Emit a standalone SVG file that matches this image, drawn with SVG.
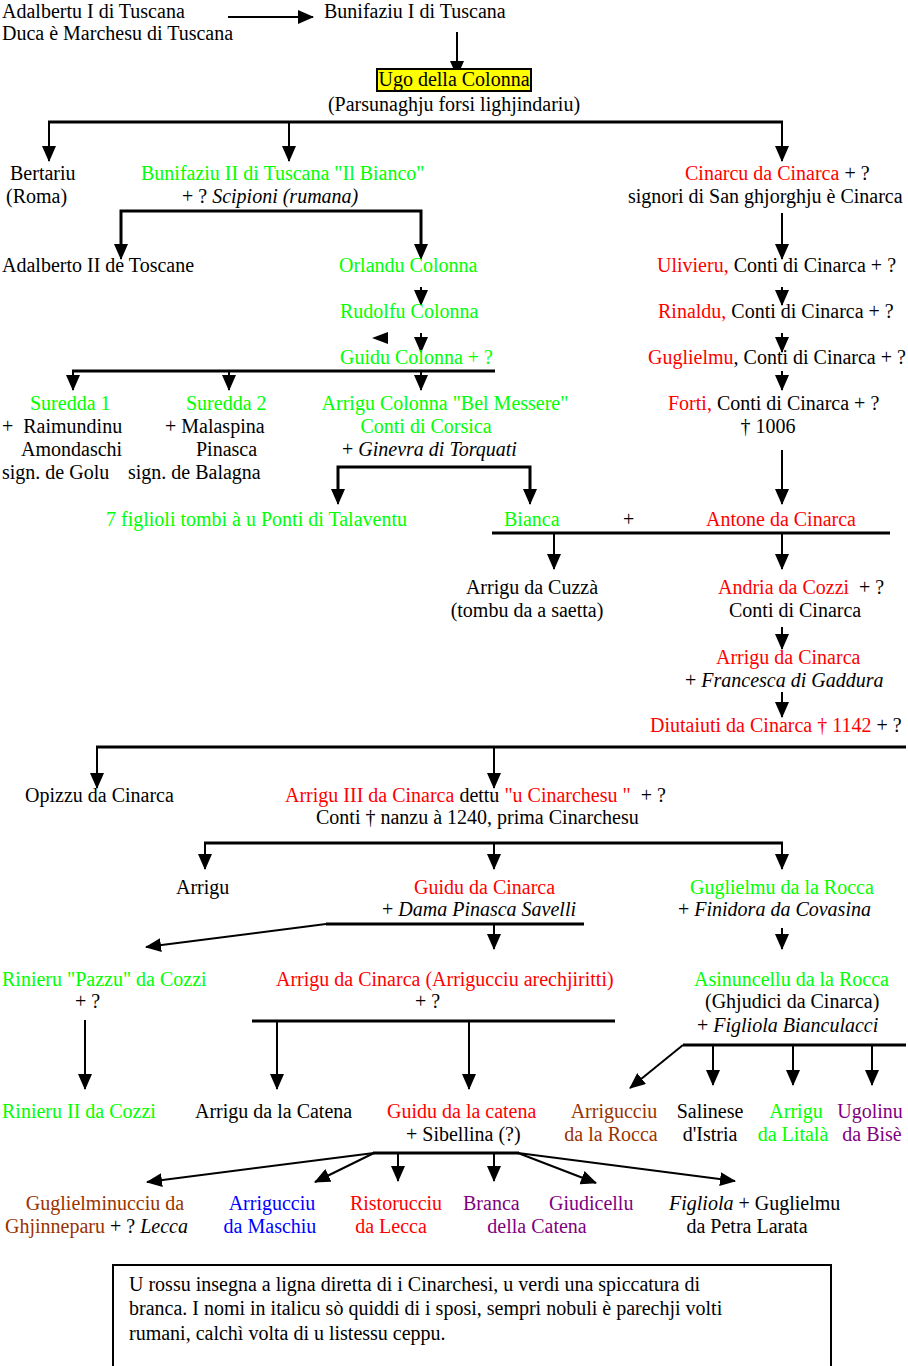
<svg xmlns="http://www.w3.org/2000/svg" width="908" height="1366" viewBox="0 0 908 1366">
<defs>
<style>
text{font-family:"Liberation Serif","Times New Roman",serif;font-size:20px;fill:#000}
.g{fill:#00ff00}.r{fill:#ff0000}.b{fill:#993300}.u{fill:#0000ff}.p{fill:#800080}.k{fill:#000}
.i{font-style:italic}
.c line,.c polyline{stroke:#000;stroke-width:2;fill:none}
.c .h{stroke-width:3}
.c .tri{fill:#000;stroke:none}
</style>
<marker id="a" markerUnits="userSpaceOnUse" markerWidth="16" markerHeight="14" refX="15" refY="7" orient="auto"><path d="M0,0 L16,7 L0,14 z" fill="#000"/></marker>
</defs>
<rect width="908" height="1366" fill="#fff"/>
<g id="connectors" class="c">
<line x1="228" y1="17" x2="313" y2="17" marker-end="url(#a)"/>
<line x1="457" y1="32" x2="457" y2="76" marker-end="url(#a)"/>
<line class="h" x1="48" y1="122" x2="783" y2="122"/>
<line x1="49" y1="122" x2="49" y2="161" marker-end="url(#a)"/>
<line x1="289" y1="122" x2="289" y2="161" marker-end="url(#a)"/>
<line x1="782" y1="122" x2="782" y2="161" marker-end="url(#a)"/>
<polyline class="h" points="121,250 121,211 421,211 421,250"/>
<line x1="121" y1="230" x2="121" y2="259" marker-end="url(#a)"/>
<line x1="421" y1="230" x2="421" y2="259" marker-end="url(#a)"/>
<line x1="782" y1="213" x2="782" y2="259" marker-end="url(#a)"/>
<line x1="421" y1="287" x2="421" y2="305" marker-end="url(#a)"/>
<line x1="782" y1="287" x2="782" y2="305" marker-end="url(#a)"/>
<path class="tri" d="M372,338 L388,332 L388,344 z"/>
<line x1="421" y1="333" x2="421" y2="352" marker-end="url(#a)"/>
<line x1="782" y1="333" x2="782" y2="352" marker-end="url(#a)"/>
<line class="h" x1="72" y1="371" x2="495" y2="371"/>
<line x1="73" y1="371" x2="73" y2="390" marker-end="url(#a)"/>
<line x1="229" y1="371" x2="229" y2="390" marker-end="url(#a)"/>
<line x1="421" y1="371" x2="421" y2="390" marker-end="url(#a)"/>
<line x1="782" y1="371" x2="782" y2="390" marker-end="url(#a)"/>
<polyline class="h" points="338,490 338,467 530,467 530,490"/>
<line x1="338" y1="480" x2="338" y2="504" marker-end="url(#a)"/>
<line x1="530" y1="480" x2="530" y2="504" marker-end="url(#a)"/>
<line x1="782" y1="450" x2="782" y2="504" marker-end="url(#a)"/>
<line class="h" x1="492" y1="533" x2="890" y2="533"/>
<line x1="554" y1="533" x2="554" y2="569" marker-end="url(#a)"/>
<line x1="782" y1="533" x2="782" y2="569" marker-end="url(#a)"/>
<line x1="782" y1="627" x2="782" y2="649" marker-end="url(#a)"/>
<line x1="782" y1="692" x2="782" y2="717" marker-end="url(#a)"/>
<line class="h" x1="96" y1="747" x2="906" y2="747"/>
<line x1="97" y1="747" x2="97" y2="788" marker-end="url(#a)"/>
<line x1="494" y1="747" x2="494" y2="788" marker-end="url(#a)"/>
<line class="h" x1="204" y1="843" x2="783" y2="843"/>
<line x1="205" y1="843" x2="205" y2="869" marker-end="url(#a)"/>
<line x1="494" y1="843" x2="494" y2="869" marker-end="url(#a)"/>
<line x1="782" y1="843" x2="782" y2="869" marker-end="url(#a)"/>
<line class="h" x1="326" y1="924" x2="584" y2="924"/>
<line x1="326" y1="924" x2="146" y2="947" marker-end="url(#a)"/>
<line x1="494" y1="924" x2="494" y2="949" marker-end="url(#a)"/>
<line x1="782" y1="928" x2="782" y2="949" marker-end="url(#a)"/>
<line x1="85" y1="1020" x2="85" y2="1089" marker-end="url(#a)"/>
<line class="h" x1="252" y1="1021" x2="615" y2="1021"/>
<line x1="277" y1="1021" x2="277" y2="1089" marker-end="url(#a)"/>
<line x1="469" y1="1021" x2="469" y2="1089" marker-end="url(#a)"/>
<line class="h" x1="683" y1="1045" x2="906" y2="1045"/>
<line x1="683" y1="1045" x2="630" y2="1088" marker-end="url(#a)"/>
<line x1="713" y1="1045" x2="713" y2="1085" marker-end="url(#a)"/>
<line x1="793" y1="1045" x2="793" y2="1085" marker-end="url(#a)"/>
<line x1="872" y1="1045" x2="872" y2="1085" marker-end="url(#a)"/>
<line class="h" x1="373" y1="1153" x2="519" y2="1153"/>
<line x1="374" y1="1153" x2="147" y2="1182" marker-end="url(#a)"/>
<line x1="374" y1="1153" x2="315" y2="1182" marker-end="url(#a)"/>
<line x1="398" y1="1153" x2="398" y2="1181" marker-end="url(#a)"/>
<line x1="494" y1="1153" x2="494" y2="1181" marker-end="url(#a)"/>
<line x1="518" y1="1153" x2="596" y2="1183" marker-end="url(#a)"/>
<line x1="518" y1="1153" x2="735" y2="1181" marker-end="url(#a)"/>
</g>
<g id="n-adalbertu1"><text x="2" y="18">Adalbertu I di Tuscana</text><text x="2" y="40">Duca è Marchesu di Tuscana</text></g>
<g id="n-bunifaziu1"><text x="324" y="18">Bunifaziu I di Tuscana</text></g>
<g id="n-ugo"><rect x="377" y="69" width="154" height="22" fill="#ffff00" stroke="#000" stroke-width="2"/><text x="454" y="86" text-anchor="middle">Ugo della Colonna</text><text x="454" y="111" text-anchor="middle">(Parsunaghju forsi lighjindariu)</text></g>
<g id="n-bertariu"><text x="10" y="180">Bertariu</text><text x="6" y="203">(Roma)</text></g>
<g id="n-bunifaziu2"><text x="141" y="180" class="g">Bunifaziu II di Tuscana "Il Bianco"</text><text x="182" y="203">+ ? <tspan class="i">Scipioni (rumana)</tspan></text></g>
<g id="n-cinarcu"><text x="685" y="180"><tspan class="r">Cinarcu da Cinarca</tspan> + ?</text><text x="628" y="203">signori di San ghjorghju è Cinarca</text></g>
<g id="n-adalberto2"><text x="2" y="272">Adalberto II de Toscane</text></g>
<g id="n-orlandu"><text x="339" y="272" class="g">Orlandu Colonna</text></g>
<g id="n-ulivieru"><text x="657" y="272"><tspan class="r">Ulivieru,</tspan> Conti di Cinarca + ?</text></g>
<g id="n-rudolfu"><text x="340" y="318" class="g">Rudolfu Colonna</text></g>
<g id="n-rinaldu"><text x="658" y="318"><tspan class="r">Rinaldu,</tspan> Conti di Cinarca + ?</text></g>
<g id="n-guidu-colonna"><text x="340" y="364" class="g">Guidu Colonna + ?</text></g>
<g id="n-guglielmu"><text x="648" y="364"><tspan class="r">Guglielmu</tspan>, Conti di Cinarca + ?</text></g>
<g id="n-suredda1"><text x="30" y="410" class="g">Suredda 1</text><text x="2" y="433">+&#160; Raimundinu</text><text x="21" y="456">Amondaschi</text><text x="2" y="479">sign. de Golu</text></g>
<g id="n-suredda2"><text x="186" y="410" class="g">Suredda 2</text><text x="165" y="433">+ Malaspina</text><text x="196" y="456">Pinasca</text><text x="128" y="479">sign. de Balagna</text></g>
<g id="n-arrigu-colonna"><text x="445" y="410" class="g" text-anchor="middle">Arrigu Colonna "Bel Messere"</text><text x="426" y="433" class="g" text-anchor="middle">Conti di Corsica</text><text x="342" y="456">+ <tspan class="i">Ginevra di Torquati</tspan></text></g>
<g id="n-forti"><text x="668" y="410"><tspan class="r">Forti,</tspan> Conti di Cinarca + ?</text><text x="768" y="433" text-anchor="middle">† 1006</text></g>
<g id="n-7figlioli"><text x="106" y="526" class="g">7 figlioli tombi à u Ponti di Talaventu</text></g>
<g id="n-bianca"><text x="504" y="526" class="g">Bianca</text><text x="623" y="526">+</text></g>
<g id="n-antone"><text x="706" y="526" class="r">Antone da Cinarca</text></g>
<g id="n-arrigu-cuzza"><text x="532" y="594" text-anchor="middle">Arrigu da Cuzzà</text><text x="527" y="617" text-anchor="middle">(tombu da a saetta)</text></g>
<g id="n-andria"><text x="718" y="594"><tspan class="r">Andria da Cozzi</tspan>&#160; + ?</text><text x="729" y="617">Conti di Cinarca</text></g>
<g id="n-arrigu-cinarca"><text x="716" y="664" class="r">Arrigu da Cinarca</text><text x="685" y="687">+ <tspan class="i">Francesca di Gaddura</tspan></text></g>
<g id="n-diutaiuti"><text x="650" y="732"><tspan class="r">Diutaiuti da Cinarca † 1142</tspan> + ?</text></g>
<g id="n-opizzu"><text x="25" y="802">Opizzu da Cinarca</text></g>
<g id="n-arrigu3"><text x="285" y="802"><tspan class="r">Arrigu III da Cinarca</tspan> dettu <tspan class="r">"u Cinarchesu "</tspan>&#160; + ?</text><text x="316" y="824">Conti † nanzu à 1240, prima Cinarchesu</text></g>
<g id="n-arrigu"><text x="176" y="894">Arrigu</text></g>
<g id="n-guidu-cinarca"><text x="414" y="894" class="r">Guidu da Cinarca</text><text x="382" y="916">+ <tspan class="i">Dama Pinasca Savelli</tspan></text></g>
<g id="n-guglielmu-rocca"><text x="690" y="894" class="g">Guglielmu da la Rocca</text><text x="678" y="916">+ <tspan class="i">Finidora da Covasina</tspan></text></g>
<g id="n-rinieru"><text x="2" y="986" class="g">Rinieru "Pazzu" da Cozzi</text><text x="75" y="1008">+ ?</text></g>
<g id="n-arrigucciu-arech"><text x="276" y="986" class="r">Arrigu da Cinarca (Arrigucciu arechjiritti)</text><text x="415" y="1008">+ ?</text></g>
<g id="n-asinuncellu"><text x="694" y="986" class="g">Asinuncellu da la Rocca</text><text x="705" y="1008">(Ghjudici da Cinarca)</text><text x="697" y="1032">+ <tspan class="i">Figliola Bianculacci</tspan></text></g>
<g id="n-rinieru2"><text x="2" y="1118" class="g">Rinieru II da Cozzi</text></g>
<g id="n-arrigu-catena"><text x="195" y="1118">Arrigu da la Catena</text></g>
<g id="n-guidu-catena"><text x="387" y="1118" class="r">Guidu da la catena</text><text x="406" y="1141">+ Sibellina (?)</text></g>
<g id="n-arrigucciu-rocca"><text x="614" y="1118" class="b" text-anchor="middle">Arrigucciu</text><text x="611" y="1141" class="b" text-anchor="middle">da la Rocca</text></g>
<g id="n-salinese"><text x="710" y="1118" text-anchor="middle">Salinese</text><text x="710" y="1141" text-anchor="middle">d'Istria</text></g>
<g id="n-arrigu-litala"><text x="796" y="1118" class="g" text-anchor="middle">Arrigu</text><text x="793" y="1141" class="g" text-anchor="middle">da Litalà</text></g>
<g id="n-ugolinu"><text x="870" y="1118" class="p" text-anchor="middle">Ugolinu</text><text x="872" y="1141" class="p" text-anchor="middle">da Bisè</text></g>
<g id="n-guglielminucciu"><text x="105" y="1210" class="b" text-anchor="middle">Guglielminucciu da</text><text x="5" y="1233"><tspan class="b">Ghjinneparu</tspan> + ? <tspan class="i">Lecca</tspan></text></g>
<g id="n-arrigucciu-maschiu"><text x="272" y="1210" class="u" text-anchor="middle">Arrigucciu</text><text x="270" y="1233" class="u" text-anchor="middle">da Maschiu</text></g>
<g id="n-ristorucciu"><text x="396" y="1210" class="r" text-anchor="middle">Ristorucciu</text><text x="391" y="1233" class="r" text-anchor="middle">da Lecca</text></g>
<g id="n-branca"><text x="463" y="1210" class="p">Branca</text><text x="537" y="1233" class="p" text-anchor="middle">della Catena</text></g>
<g id="n-giudicellu"><text x="549" y="1210" class="p">Giudicellu</text></g>
<g id="n-figliola"><text x="669" y="1210"><tspan class="i">Figliola</tspan> + Guglielmu</text><text x="747" y="1233" text-anchor="middle">da Petra Larata</text></g>
<g id="legend"><rect x="113" y="1265" width="718" height="110" fill="none" stroke="#000" stroke-width="2"/><text x="129" y="1291">U rossu insegna a ligna diretta di i Cinarchesi, u verdi una spiccatura di</text><text x="129" y="1315">branca. I nomi in italicu sò quiddi di i sposi, sempri nobuli è parechji volti</text><text x="129" y="1340">rumani, calchì volta di u listessu ceppu.</text></g>
</svg>
